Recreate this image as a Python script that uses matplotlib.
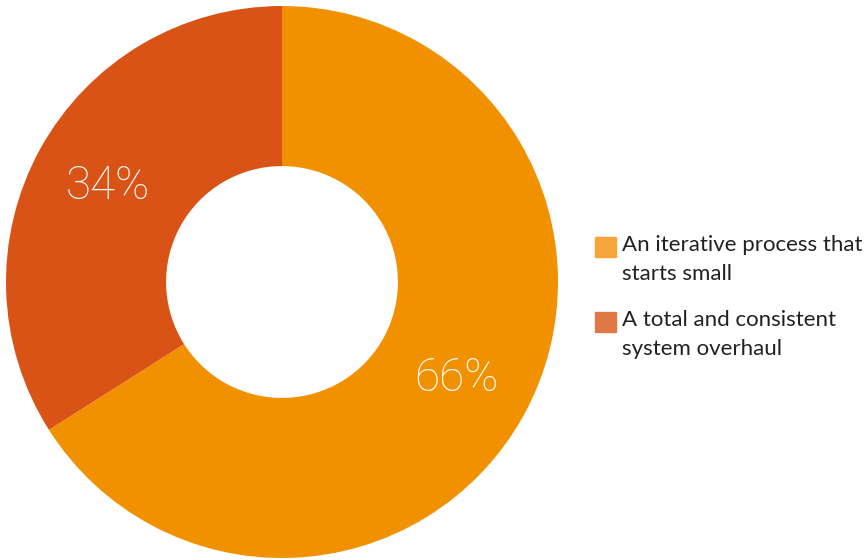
import matplotlib.pyplot as plt
from matplotlib.patches import Rectangle

# data
labels = ['An iterative process that\nstarts small', 'A total and consistent\nsystem overhaul']
shares = [66, 34]
wedge_colors = ['#F29100', '#D95316']
legend_colors = ['#F5A53A', '#E07846']

plt.rcParams['font.family'] = ['Lato', 'DejaVu Sans']

fig = plt.figure(figsize=(8.65, 5.6), dpi=100)
# donut axes: centre (282, 282) px, radius 276 px
ax = fig.add_axes([6 / 865, 2 / 560, 552 / 865, 552 / 560])

wedges, texts, autotexts = ax.pie(
    shares, colors=wedge_colors, startangle=90, counterclock=False,
    radius=1, wedgeprops=dict(width=0.58, edgecolor='none'),
    autopct='%d%%', pctdistance=0.72,
    textprops=dict(color='white', fontsize=33, family=['Roboto', 'DejaVu Sans'],
                   fontweight='light'))
ax.set_xlim(-1, 1)
ax.set_ylim(-1, 1)
ax.set_aspect('equal')
ax.axis('off')

# legend drawn by hand so the square sits on the first line
y0 = 0.559
for i, (lab, col) in enumerate(zip(labels, legend_colors)):
    y = y0 - i * 0.134
    fig.patches.append(Rectangle((595 / 865, y - 10 / 560), 21 / 865, 20 / 560,
                                 transform=fig.transFigure, color=col))
    fig.text(622 / 865, y + 12 / 560, lab, fontsize=16, color='#222222',
             va='top', ha='left', linespacing=1.55)

fig.savefig('out.png', dpi=100)
